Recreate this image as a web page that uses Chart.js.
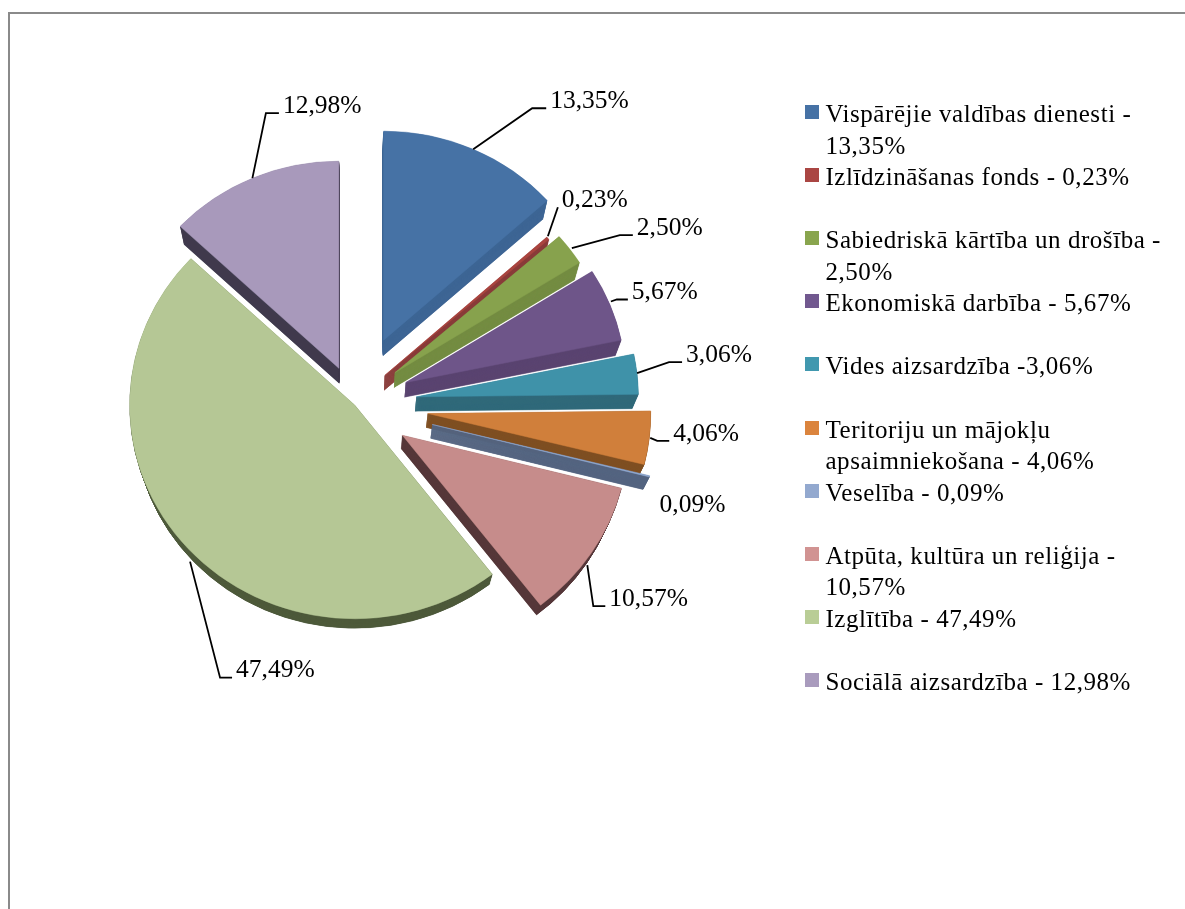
<!DOCTYPE html>
<html><head><meta charset="utf-8">
<style>html,body{margin:0;padding:0;background:#fff;overflow:hidden}
#wrap{position:absolute;left:0;top:0;width:1185px;height:909px}
#frameTop{position:absolute;left:8px;top:12px;width:1177px;height:2px;background:#8a8a8a}
#frameLeft{position:absolute;left:8px;top:12px;width:2px;height:897px;background:#8a8a8a}
</style>
<script src="https://cdn.jsdelivr.net/npm/chart.js@4"></script>
</head><body><div id="wrap"><canvas id="c" width="1185" height="909"></canvas><div id="frameTop"></div><div id="frameLeft"></div></div>
<script>
const categories = ["Vispārējie valdības dienesti - 13,35%","Izlīdzināšanas fonds - 0,23%","Sabiedriskā kārtība un drošība - 2,50%","Ekonomiskā darbība - 5,67%","Vides aizsardzība -3,06%","Teritoriju un mājokļu apsaimniekošana - 4,06%","Veselība - 0,09%","Atpūta, kultūra un reliģija - 10,57%","Izglītība - 47,49%","Sociālā aizsardzība - 12,98%"];
const legendLines = [["Vispārējie valdības dienesti -","13,35%"],["Izlīdzināšanas fonds - 0,23%",""],["Sabiedriskā kārtība un drošība -","2,50%"],["Ekonomiskā darbība - 5,67%",""],["Vides aizsardzība -3,06%",""],["Teritoriju un mājokļu","apsaimniekošana - 4,06%"],["Veselība - 0,09%",""],["Atpūta, kultūra un reliģija -","10,57%"],["Izglītība - 47,49%",""],["Sociālā aizsardzība - 12,98%"]];
const values = [13.35,0.23,2.50,5.67,3.06,4.06,0.09,10.57,47.49,12.98];
const valueLabels = ["13,35%","0,23%","2,50%","5,67%","3,06%","4,06%","0,09%","10,57%","47,49%","12,98%"];
const topColors = ["#4672A5","#A9443F","#87A24D","#6E5589","#3F92A9","#D07F3B","#8FA8D0","#C68C8B","#B5C795","#A899BB"];
const legendColors = ["#4672A5","#AA4643","#89A54E","#71588F","#4198AF","#DB843D","#93A9CF","#D19392","#B9CD96","#A99BBD"];
const sideColors = ["#3D6594","#893B39","#748C42","#5A4470","#30697A","#7F4F22","#546480","#553739","#4E5A3B","#403A4D"];
const explodePx = [71,40,50,55,62,73.5,80,57,0,40];
const liftPx = [0,3,2.5,2,1.5,0,0,1,0,0];
const radii = [220,218,218,220,222,223,224,226,225,218];
const starts = [[0,0],[0,-2],[2,-1],[1,-3],[0,-1],[1,0],[0,0],[-4,12],[2,13],[0,0]];
const elbows = [[59,-41],[10,-31],[50,-14],[7,-5],[32,-12],[8,3],[6,36],[2,53],[32,129],[13.5,-65]];
const stubs = [14,0,13,11,13,12,0,12,12,13];
const hasLeader = [1,1,1,1,1,1,0,1,1,1];
const FONT = "'Liberation Serif'";
const pieShiftX = -51.25;
const tilt = 0.95;
const legendSpacing = '0.55px';

function sector(ctx,a,cx,cy,r){ctx.beginPath();ctx.moveTo(cx,cy);ctx.arc(cx,cy,r,a.startAngle,a.endAngle);ctx.closePath();}
function applyTilt(ctx,cy){ctx.translate(0,cy);ctx.scale(1,tilt);ctx.translate(0,-cy);}
const pie3d={id:'pie3d',
  beforeLayout(chart){chart.ctx.letterSpacing=legendSpacing;},
  beforeDraw(chart){chart.ctx.letterSpacing=legendSpacing;},
  afterDatasetsUpdate(chart){
    const area=chart.chartArea;
    chart.getDatasetMeta(0).data.forEach((a,i)=>{
      const m=(a.startAngle+a.endAngle)/2;
      a.outerRadius=radii[i];a.innerRadius=0;
      a.x=(area.left+area.right)/2+pieShiftX+Math.cos(m)*explodePx[i];
      a.y=(area.top+area.bottom)/2+(Math.sin(m)*explodePx[i]-liftPx[i])/tilt;
    });
  },
  beforeDatasetsDraw(chart){
    const ctx=chart.ctx, S=0.022, H=23, area=chart.chartArea, cy=(area.top+area.bottom)/2, VX=(area.left+area.right)/2+pieShiftX, steps=30;
    chart.getDatasetMeta(0).data.forEach((a,i)=>{
      ctx.fillStyle=sideColors[i];ctx.strokeStyle=sideColors[i];ctx.lineWidth=0.6;
      for(let k=steps;k>=1;k--){const t=k/steps,s=1-S*t;
        ctx.save();ctx.translate(VX*S*t,H*t);ctx.scale(s,s);applyTilt(ctx,cy);
        sector(ctx,a,a.x,a.y,a.outerRadius);ctx.fill();ctx.stroke();ctx.restore();}
    });
    ctx.save();applyTilt(ctx,cy);
  },
  afterDatasetsDraw(chart){
    const ctx=chart.ctx;ctx.restore();ctx.save();
    const area=chart.chartArea, cy=(area.top+area.bottom)/2;
    ctx.letterSpacing='0px';
    ctx.strokeStyle='#000';ctx.lineWidth=1.8;ctx.fillStyle='#000';
    ctx.font="25.5px "+FONT;ctx.textBaseline='middle';ctx.textAlign='left';
    chart.getDatasetMeta(0).data.forEach((a,i)=>{
      const m=(a.startAngle+a.endAngle)/2, rx=a.x+Math.cos(m)*a.outerRadius, ry=cy+(a.y+Math.sin(m)*a.outerRadius-cy)*tilt;
      const ex=rx+elbows[i][0], ey=ry+elbows[i][1];
      if(hasLeader[i]){ctx.beginPath();ctx.moveTo(rx+starts[i][0],ry+starts[i][1]);ctx.lineTo(ex,ey);ctx.lineTo(ex+stubs[i],ey);ctx.stroke();}
      ctx.fillText(valueLabels[i],ex+stubs[i]+4,ey-7);
    });
    ctx.restore();
  },
  afterDraw(chart){
    const ctx=chart.ctx;ctx.save();
    chart.legend.legendHitBoxes.forEach((h,i)=>{ctx.fillStyle=legendColors[i];ctx.fillRect(Math.round(h.left-6.5),Math.round(h.top+2),14,14);});
    ctx.restore();
  }};
new Chart(document.getElementById('c'),{type:'pie',
  data:{labels:categories,datasets:[{data:values,backgroundColor:topColors,borderColor:topColors,borderWidth:0.5}]},
  plugins:[pie3d],
  options:{responsive:false,animation:false,
    layout:{padding:{left:0,right:14,top:103,bottom:202}},
    plugins:{tooltip:{enabled:false},
      legend:{position:'right',align:'start',
        labels:{padding:0,boxWidth:1,boxHeight:0,color:'#000',
          font:{family:FONT,size:25,lineHeight:'31.55px'},
          generateLabels(){return legendLines.map((t,i)=>({text:t,fillStyle:legendColors[i],strokeStyle:legendColors[i],lineWidth:0,index:i,hidden:false}));}
        }}}
  }});
</script></body></html>
